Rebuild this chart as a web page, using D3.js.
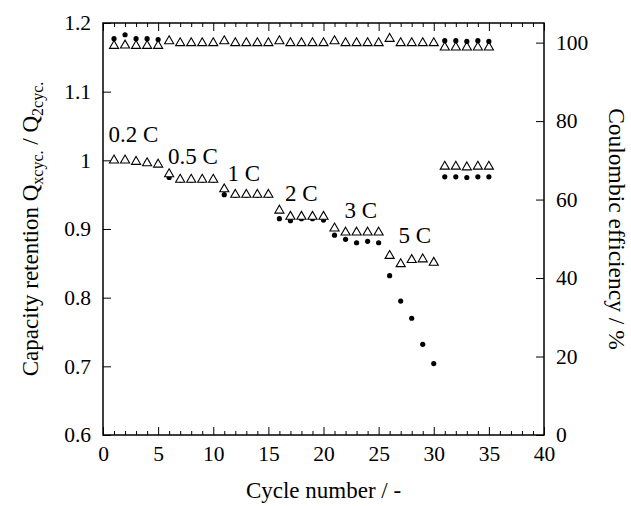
<!DOCTYPE html>
<html>
<head>
<meta charset="utf-8">
<script src="https://cdn.jsdelivr.net/npm/d3@7"></script>
</head>
<body style="margin:0;background:#fff">
<svg></svg>
<script>
const width = 631;
const height = 506;
const serif = "'Liberation Serif', 'Times New Roman', serif";

// cycle numbers
const cycles = [1, 2, 3, 4, 5, 6, 7, 8, 9, 10, 11, 12, 13, 14, 15, 16, 17, 18,
    19, 20, 21, 22, 23, 24, 25, 26, 27, 28, 29, 30, 31, 32, 33, 34, 35];

// capacity retention, open triangles
const retentionTri = [1.000, 1.000, 0.998, 0.996, 0.994,
    0.980, 0.972, 0.972, 0.972, 0.972,
    0.958, 0.950, 0.950, 0.950, 0.950,
    0.927, 0.918, 0.918, 0.918, 0.918,
    0.901, 0.895, 0.895, 0.895, 0.895,
    0.861, 0.849, 0.855, 0.856, 0.851,
    0.991, 0.991, 0.990, 0.991, 0.991];

// capacity retention, filled dots
const retentionDot = [1.000, 1.000, 0.998, 0.997, 0.994,
    0.975, 0.971, 0.971, 0.971, 0.971,
    0.950, 0.949, 0.949, 0.949, 0.949,
    0.915, 0.912, 0.915, 0.915, 0.913,
    0.891, 0.885, 0.880, 0.882, 0.880,
    0.832, 0.795, 0.770, 0.732, 0.704,
    0.976, 0.976, 0.975, 0.976, 0.976];

// coulombic efficiency (%), open triangles
const ceTri = [99.2, 99.3, 99.2, 99.2, 99.2,
    100.4, 99.9, 99.9, 99.9, 99.9,
    100.4, 99.9, 99.9, 99.9, 99.9,
    100.4, 99.9, 99.9, 99.9, 99.9,
    100.4, 99.9, 99.9, 99.9, 99.9,
    101.0, 99.9, 99.9, 99.9, 99.9,
    98.8, 98.8, 98.8, 98.8, 98.8];

// coulombic efficiency (%), filled dots (only first and last steps)
const ceDotCycles = [1, 2, 3, 4, 5, 31, 32, 33, 34, 35];
const ceDot = [101.0, 102.0, 101.0, 101.0, 100.8, 100.5, 100.5, 100.3, 100.5, 100.3];

// C-rate labels: text, cycle, retention at baseline
const rateText = ["0.2 C", "0.5 C", "1 C", "2 C", "3 C", "5 C"];
const rateCycle = [0.5, 5.9, 11.3, 16.5, 21.9, 26.8];
const rateValue = [1.027, 0.994, 0.970, 0.941, 0.9165, 0.879];

const xTicks = [0, 5, 10, 15, 20, 25, 30, 35, 40];
const yTicks = [0.6, 0.7, 0.8, 0.9, 1.0, 1.1, 1.2];
const y2Ticks = [0, 20, 40, 60, 80, 100];

const plotLeft = 103, plotRight = 544, plotTop = 23, plotBottom = 435;

const x = d3.scaleLinear().domain([0, 40]).range([plotLeft, plotRight]);
const y = d3.scaleLinear().domain([0.6, 1.2]).range([plotBottom, plotTop]);
const y2 = d3.scaleLinear().domain([0, 105]).range([plotBottom, plotTop]);

const svg = d3.select("svg")
    .attr("width", width)
    .attr("height", height)
    .style("font-family", serif);

const minorX = d3.range(0, 41).filter(d => d % 5 !== 0);

const styleTicks = g => g.selectAll("text")
    .style("font-family", serif)
    .style("font-size", "21.5px")
    .attr("fill", "#000");

// bottom axis
svg.append("g")
    .attr("transform", `translate(0,${plotBottom})`)
    .call(d3.axisBottom(x).tickValues(xTicks).tickSize(-8).tickPadding(11)
        .tickFormat(d => d))
    .call(g => g.select(".domain").remove())
    .call(styleTicks);

svg.append("g")
    .attr("transform", `translate(0,${plotBottom})`)
    .call(d3.axisBottom(x).tickValues(minorX).tickSize(-4).tickFormat(""))
    .call(g => g.select(".domain").remove());

// top axis
svg.append("g")
    .attr("transform", `translate(0,${plotTop})`)
    .call(d3.axisTop(x).tickValues(xTicks).tickSize(-8).tickFormat(""))
    .call(g => g.select(".domain").remove());

svg.append("g")
    .attr("transform", `translate(0,${plotTop})`)
    .call(d3.axisTop(x).tickValues(minorX).tickSize(-4).tickFormat(""))
    .call(g => g.select(".domain").remove());

// left axis
svg.append("g")
    .attr("transform", `translate(${plotLeft},0)`)
    .call(d3.axisLeft(y).tickValues(yTicks).tickSize(-8).tickPadding(12)
        .tickFormat(d => d === 1 ? "1" : d3.format(".1f")(d)))
    .call(g => g.select(".domain").remove())
    .call(styleTicks);

// right axis
svg.append("g")
    .attr("transform", `translate(${plotRight},0)`)
    .call(d3.axisRight(y2).tickValues(y2Ticks).tickSize(-8).tickPadding(12))
    .call(g => g.select(".domain").remove())
    .call(styleTicks);

svg.selectAll("g").attr("font-family", null);
svg.selectAll(".tick line").attr("stroke", "#000").attr("stroke-width", 1);

// frame
svg.append("rect")
    .attr("x", plotLeft)
    .attr("y", plotTop)
    .attr("width", plotRight - plotLeft)
    .attr("height", plotBottom - plotTop)
    .attr("fill", "none")
    .attr("stroke", "#000")
    .attr("stroke-width", 1.5);

const tri = d3.symbol(d3.symbolTriangle, 36);

// retention dots
svg.append("g")
    .selectAll("circle")
    .data(cycles)
    .join("circle")
    .attr("cx", d => x(d))
    .attr("cy", (d, i) => y(retentionDot[i]))
    .attr("r", 2.6)
    .attr("fill", "#000");

// retention triangles
svg.append("g")
    .selectAll("path")
    .data(cycles)
    .join("path")
    .attr("d", tri)
    .attr("transform", (d, i) => `translate(${x(d)},${y(retentionTri[i])})`)
    .attr("fill", "#fff")
    .attr("stroke", "#000")
    .attr("stroke-width", 1.1);

// CE triangles
svg.append("g")
    .selectAll("path")
    .data(cycles)
    .join("path")
    .attr("d", tri)
    .attr("transform", (d, i) => `translate(${x(d)},${y2(ceTri[i])})`)
    .attr("fill", "#fff")
    .attr("stroke", "#000")
    .attr("stroke-width", 1.1);

// CE dots
svg.append("g")
    .selectAll("circle")
    .data(ceDotCycles)
    .join("circle")
    .attr("cx", d => x(d))
    .attr("cy", (d, i) => y2(ceDot[i]))
    .attr("r", 2.6)
    .attr("fill", "#000");

// rate labels
svg.append("g")
    .selectAll("text")
    .data(rateText)
    .join("text")
    .attr("x", (d, i) => x(rateCycle[i]))
    .attr("y", (d, i) => y(rateValue[i]))
    .style("font-family", serif)
    .style("font-size", "23px")
    .text(d => d);

// x title
svg.append("text")
    .attr("x", (plotLeft + plotRight) / 2)
    .attr("y", 498)
    .attr("text-anchor", "middle")
    .style("font-family", serif)
    .style("font-size", "23px")
    .text("Cycle number / -");

// left title
const yt = svg.append("text")
    .attr("transform", `translate(38,${(plotTop + plotBottom) / 2}) rotate(-90)`)
    .attr("text-anchor", "middle")
    .style("font-family", serif)
    .style("font-size", "23px");
yt.append("tspan").text("Capacity retention Q");
yt.append("tspan").attr("dy", 5).style("font-size", "16px").text("xcyc.");
yt.append("tspan").attr("dy", -5).text(" / Q");
yt.append("tspan").attr("dy", 5).style("font-size", "16px").text("2cyc.");

// right title
svg.append("text")
    .attr("transform", `translate(609,${(plotTop + plotBottom) / 2}) rotate(90)`)
    .attr("text-anchor", "middle")
    .style("font-family", serif)
    .style("font-size", "23.5px")
    .text("Coulombic efficiency / %");
</script>
</body>
</html>
